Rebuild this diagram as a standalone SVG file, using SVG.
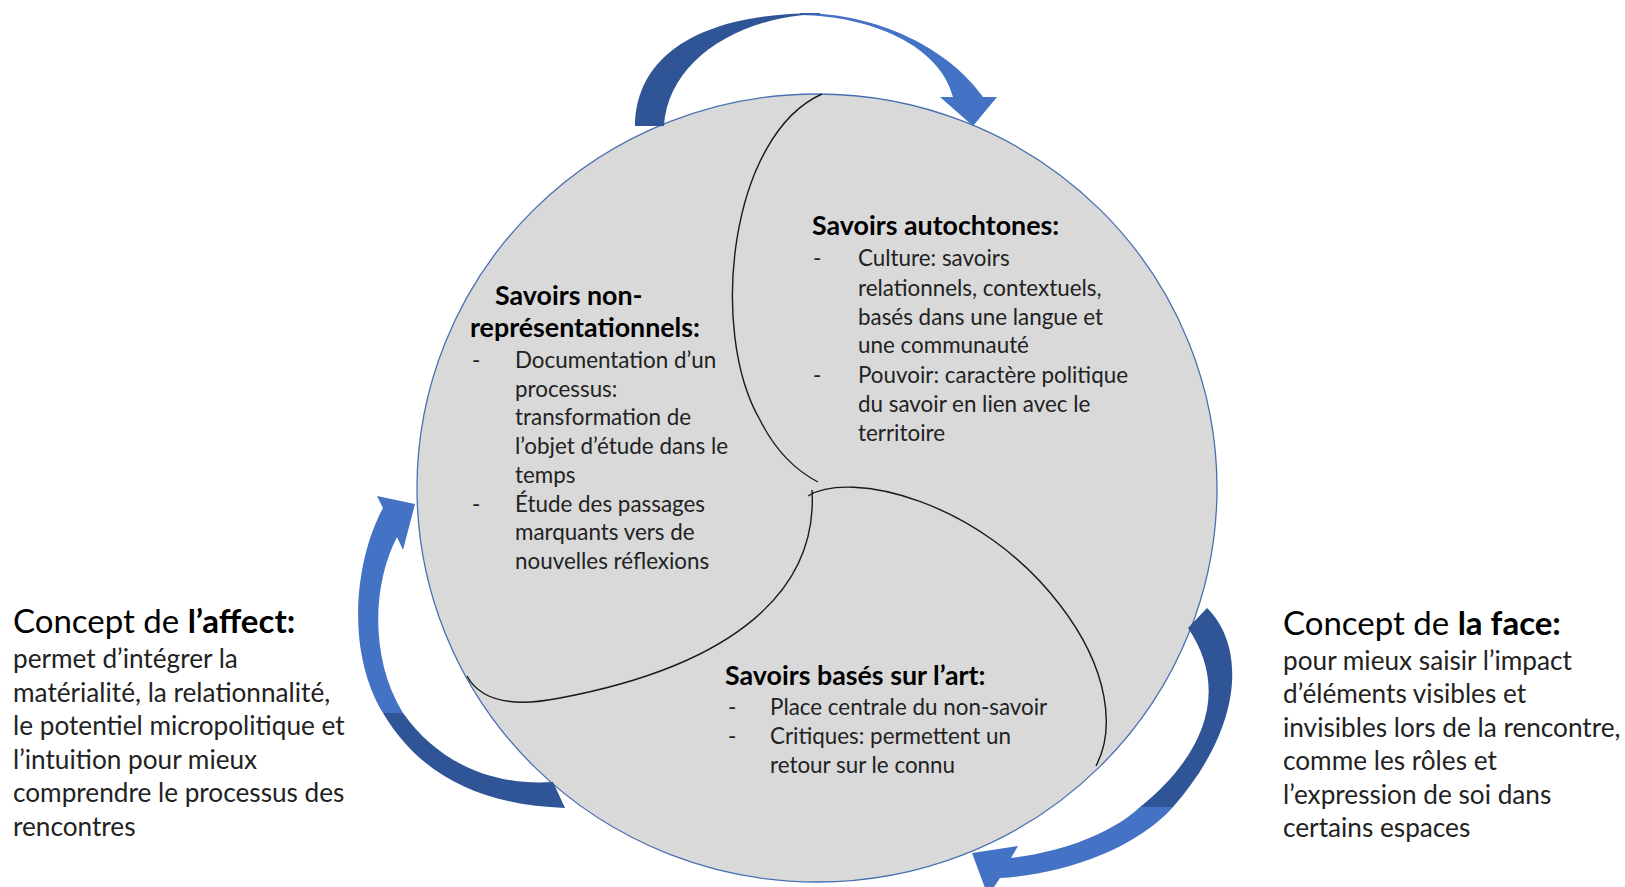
<svg xmlns="http://www.w3.org/2000/svg" width="1625" height="887" viewBox="0 0 1625 887">
<style>
.t{font-family:Lato,"Liberation Sans",sans-serif;fill:#222}
.c{font-size:22.4px}
.ch{font-size:26.8px;font-weight:bold;fill:#000}
.s{font-size:26.2px}
.sh{font-size:33px;fill:#000}
.b{font-weight:bold}
.dark{fill:#2F5597}
.light{fill:#4472C4}
.div{fill:none;stroke:#1a1a1a;stroke-width:1.4}
</style>
<rect width="1625" height="887" fill="#fff"/>
<g id="circle">
<ellipse cx="817" cy="488" rx="400" ry="394" fill="#D9D9D9" stroke="#4A6FB0" stroke-width="1.3"/>
<path class="div" d="M822,94 C730,135 708,330 760,420 C775,450 795,470 818,482"/>
<path class="div" d="M812,490 C818,590 735,665 560,698 C510,708 480,700 467,676"/>
<path class="div" d="M808,496 C850,470 980,500 1060,605 C1110,670 1115,730 1096,766"/>
</g>
<g id="connectors">
<g id="arrow-top">
<path class="light" d="M800,13 C880,13 950,50 983,97 L997,97 L973,126 L940,97 L953,97 C940,45 870,16 800,15 Z"/>
<path class="dark" d="M635,126 C636,55 700,13 820,13 L820,14 C740,16 668,60 664,126 Z"/>
</g>
<g id="arrow-left">
<path class="light" d="M383,508 C355,560 345,650 383,713 L403,713 C370,660 372,585 397,537 L403,550 L415,504 L377,496 Z"/>
<path class="dark" d="M383,713 C420,775 480,805 565,808 L553,782 C495,786 440,765 403,713 Z"/>
</g>
<g id="arrow-right">
<path class="dark" d="M1207,608 C1245,645 1245,725 1173,807 L1140,807 C1205,755 1230,690 1188,628 Z"/>
<path class="light" d="M1173,807 C1135,850 1060,875 1000,878 L988,896 L972,853 L1018,846 L1011,858 C1060,852 1110,835 1140,807 Z"/>
</g>
</g>
<g id="node-autochtones" class="t">
<text class="ch" x="812" y="235">Savoirs autochtones:</text>
<text class="c" x="813" y="266">-</text>
<text class="c" x="858" y="266">Culture: savoirs</text>
<text class="c" x="858" y="296">relationnels, contextuels,</text>
<text class="c" x="858" y="325">basés dans une langue et</text>
<text class="c" x="858" y="353">une communauté</text>
<text class="c" x="813" y="383">-</text>
<text class="c" x="858" y="383">Pouvoir: caractère politique</text>
<text class="c" x="858" y="412">du savoir en lien avec le</text>
<text class="c" x="858" y="441">territoire</text>
</g>
<g id="node-nonrep" class="t">
<text class="ch" x="495" y="305">Savoirs non-</text>
<text class="ch" x="470" y="337">représentationnels:</text>
<text class="c" x="472" y="368">-</text>
<text class="c" x="515" y="368">Documentation d’un</text>
<text class="c" x="515" y="397">processus:</text>
<text class="c" x="515" y="425">transformation de</text>
<text class="c" x="515" y="454">l’objet d’étude dans le</text>
<text class="c" x="515" y="483">temps</text>
<text class="c" x="472" y="512">-</text>
<text class="c" x="515" y="512">Étude des passages</text>
<text class="c" x="515" y="540">marquants vers de</text>
<text class="c" x="515" y="569">nouvelles réflexions</text>
</g>
<g id="node-art" class="t">
<text class="ch" x="725" y="685">Savoirs basés sur l’art:</text>
<text class="c" x="728" y="715">-</text>
<text class="c" x="770" y="715">Place centrale du non-savoir</text>
<text class="c" x="728" y="744">-</text>
<text class="c" x="770" y="744">Critiques: permettent un</text>
<text class="c" x="770" y="773">retour sur le connu</text>
</g>
<g id="node-affect" class="t">
<text class="sh" x="13" y="633">Concept de <tspan class="b">l’affect:</tspan></text>
<text class="s" x="13" y="668">permet d’intégrer la</text>
<text class="s" x="13" y="701.6">matérialité, la relationnalité,</text>
<text class="s" x="13" y="735.2">le potentiel micropolitique et</text>
<text class="s" x="13" y="768.8">l’intuition pour mieux</text>
<text class="s" x="13" y="802.4">comprendre le processus des</text>
<text class="s" x="13" y="836">rencontres</text>
</g>
<g id="node-face" class="t">
<text class="sh" x="1283" y="635">Concept de <tspan class="b">la face:</tspan></text>
<text class="s" x="1283" y="670">pour mieux saisir l’impact</text>
<text class="s" x="1283" y="703.4">d’éléments visibles et</text>
<text class="s" x="1283" y="736.8">invisibles lors de la rencontre,</text>
<text class="s" x="1283" y="770.2">comme les rôles et</text>
<text class="s" x="1283" y="803.6">l’expression de soi dans</text>
<text class="s" x="1283" y="837">certains espaces</text>
</g>
</svg>
